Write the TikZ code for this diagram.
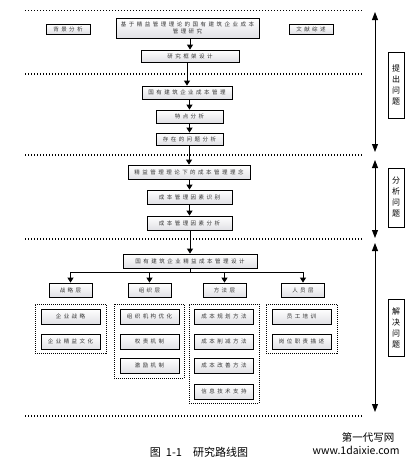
\documentclass[tikz,border=0pt]{standalone}
\usepackage{fontspec}
\setmainfont{Noto Sans CJK SC}
\newfontfamily\boxfont[LetterSpace=45]{Noto Sans CJK SC}
\usetikzlibrary{arrows.meta, shadows}

\begin{document}
\begin{tikzpicture}[x=1pt, y=-1pt]
	\tikzstyle{mainbox}=[draw, line width=0.8pt, inner sep=0pt, minimum height=14pt, top color=white, bottom color=blue!8!gray!22, drop shadow={shadow xshift=0.8pt, shadow yshift=-0.8pt, fill=black, opacity=1}, text=black!80, font=\boxfont\fontsize{5.5}{7}\selectfont]
	\tikzstyle{dotgroup}=[draw, line width=1pt, dash pattern=on 1pt off 1pt, inner sep=0pt]
	\tikzstyle{sidebox}=[draw, line width=0.8pt, fill=white, inner sep=0pt, minimum width=16pt, align=center, drop shadow={shadow xshift=0.8pt, shadow yshift=-0.8pt, fill=black, opacity=1}, font=\fontsize{8}{11}\selectfont]
	\tikzstyle{flowarrow}=[line width=1pt, -{Triangle[width=6pt, length=5pt]}]
	\tikzstyle{phasearrow}=[line width=0.9pt, {Triangle[width=6pt, length=8pt]}-{Triangle[width=6pt, length=8pt]}]
	\tikzstyle{sepline}=[line width=1.2pt, dash pattern=on 1.2pt off 1.8pt]

	\useasboundingbox (0, 0) rectangle (413, 464);

	// separators
	\foreach \y in {10.5, 74, 155, 239, 416}
		\draw[sepline] (25, \y) -- (363, \y);

	// propose
	\node[mainbox, minimum width=44pt, minimum height=10pt](Bg) at (68, 29) {背景分析};
	\node[mainbox, minimum width=143pt, minimum height=20pt, align=center](Topic) at (187.5, 28) {基于精益管理理论的国有建筑企业成本\\管理研究};
	\node[mainbox, minimum width=44pt, minimum height=10pt](Lit) at (311, 29) {文献综述};
	\node[mainbox, minimum width=98pt, minimum height=12pt](Frame) at (190, 56) {研究框架设计};
	\node[mainbox, minimum width=90pt, minimum height=13pt](Cost_Mgmt) at (187, 92.5) {国有建筑企业成本管理};
	\node[mainbox, minimum width=67pt, minimum height=13pt](Feature) at (189.5, 116.5) {特点分析};
	\node[mainbox, minimum width=67pt, minimum height=12pt](Problem) at (189.5, 139) {存在的问题分析};

	// analyse
	\node[mainbox, minimum width=122pt](Concept) at (189, 172) {精益管理理论下的成本管理理念};
	\node[mainbox, minimum width=85pt](Factor_Id) at (189.5, 197) {成本管理因素识别};
	\node[mainbox, minimum width=85pt](Factor_An) at (189.5, 223) {成本管理因素分析};

	// solve
	\node[mainbox, minimum width=134pt](Design) at (190, 261) {国有建筑企业精益成本管理设计};
	\node[mainbox, minimum width=43pt](Layer_Strat) at (70.5, 290) {战略层};
	\node[mainbox, minimum width=43pt](Layer_Org) at (149.5, 290) {组织层};
	\node[mainbox, minimum width=43pt](Layer_Method) at (224.5, 290) {方法层};
	\node[mainbox, minimum width=43pt](Layer_Staff) at (303, 290) {人员层};

	// groups
	\node[dotgroup, minimum width=71pt, minimum height=49pt](Group_Strat) at (70.5, 328.5) {};
	\node[dotgroup, minimum width=70pt, minimum height=74pt](Group_Org) at (149, 341) {};
	\node[dotgroup, minimum width=70pt, minimum height=99pt](Group_Method) at (224, 353.5) {};
	\node[dotgroup, minimum width=71pt, minimum height=49pt](Group_Staff) at (301.5, 328.5) {};

	// items
	\node[mainbox, minimum width=59pt, minimum height=15pt](Strategy) at (70.5, 316.5) {企业战略};
	\node[mainbox, minimum width=59pt, minimum height=15pt](Culture) at (70.5, 341.5) {企业精益文化};
	\node[mainbox, minimum width=59pt, minimum height=15pt](Structure) at (149.5, 316.5) {组织机构优化};
	\node[mainbox, minimum width=59pt, minimum height=15pt](Duty) at (149.5, 341.5) {权责机制};
	\node[mainbox, minimum width=59pt, minimum height=15pt](Incentive) at (149.5, 365.5) {激励机制};
	\node[mainbox, minimum width=59pt, minimum height=15pt](Planning) at (224, 316.5) {成本规划方法};
	\node[mainbox, minimum width=59pt, minimum height=15pt](Reduction) at (224, 341.5) {成本削减方法};
	\node[mainbox, minimum width=59pt, minimum height=15pt](Kaizen) at (224, 365.5) {成本改善方法};
	\node[mainbox, minimum width=59pt, minimum height=15pt](IT) at (224, 391.5) {信息技术支持};
	\node[mainbox, minimum width=59pt, minimum height=15pt](Training) at (301.5, 316.5) {员工培训};
	\node[mainbox, minimum width=59pt, minimum height=15pt](Post) at (301.5, 341.5) {岗位职责描述};

	// spine
	\foreach \a/\b in {Topic/Frame, Frame/Cost_Mgmt, Cost_Mgmt/Feature, Feature/Problem, Problem/Concept, Concept/Factor_Id, Factor_Id/Factor_An, Factor_An/Design}
		\draw[flowarrow](\a.south -| \b.north)--(\b.north);

	// branches
	\coordinate (Branch) at (190, 272);
	\draw[line width=1pt](Design.south)--(Branch);
	\draw[line width=1pt](Branch -| Layer_Strat.north)--(Branch -| Layer_Staff.north);
	\foreach \l in {Strat, Org, Method, Staff}
		\draw[flowarrow](Branch -| Layer_\l.north)--(Layer_\l.north);

	// phases
	\coordinate (Ask_Top) at (375, 12);
	\coordinate (Ask_Bot) at (375, 152);
	\coordinate (Think_Top) at (375, 160);
	\coordinate (Think_Bot) at (375, 238);
	\coordinate (Solve_Top) at (375, 243);
	\coordinate (Solve_Bot) at (375, 412);
	\draw[phasearrow](Ask_Top)--(Ask_Bot);
	\draw[phasearrow](Think_Top)--(Think_Bot);
	\draw[phasearrow](Solve_Top)--(Solve_Bot);
	\node[sidebox, minimum height=66pt](Ask) at (396, 85) {提\\出\\问\\题};
	\node[sidebox, minimum height=59pt](Think) at (396, 197.5) {分\\析\\问\\题};
	\node[sidebox, minimum height=57pt](Solve) at (396, 327.5) {解\\决\\问\\题};

	// caption
	\node[font=\fontsize{11}{13}\selectfont](Caption) at (199, 452) {图\hspace{5pt}1-1\hspace{11pt}研究路线图};
	\node[font=\fontsize{10.5}{12}\selectfont, anchor=east](Mark_Cn) at (398, 437) {第一代写网};
	\node[font=\fontsize{10.5}{12}\selectfont, anchor=east](Mark_Url) at (403, 450) {www.1daixie.com};
\end{tikzpicture}
\end{document}
